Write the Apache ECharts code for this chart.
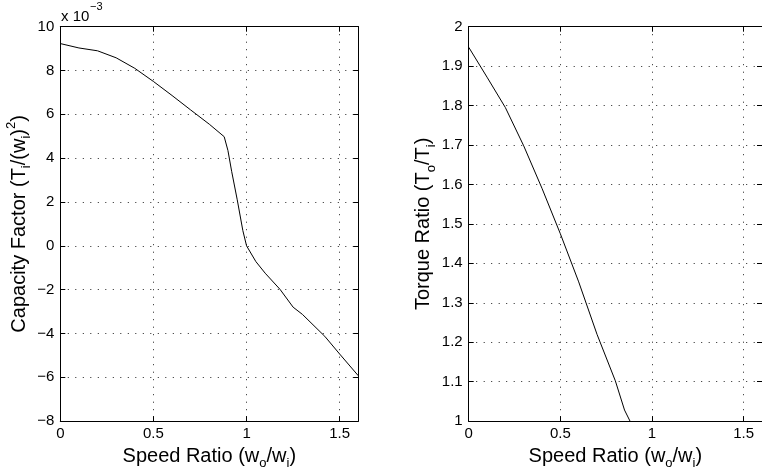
<!DOCTYPE html>
<html>
<head>
<meta charset="utf-8">
<script src="https://cdn.jsdelivr.net/npm/echarts@6/dist/echarts.min.js"></script>
<style>
html,body{margin:0;padding:0;background:#fff;}
#chart{width:762px;height:475px;}
</style>
</head>
<body>
<div id="chart"></div>
<script>
// Left panel: Capacity factor (values in units of 1e-3)
const speedRatioCap = [0, 0.1, 0.2, 0.3, 0.4, 0.5, 0.6, 0.7, 0.8, 0.88, 0.9, 0.92, 0.95, 0.98, 1.0, 1.05, 1.1, 1.18, 1.25, 1.3, 1.42, 1.5, 1.6];
const capacityFactor = [9.23, 9.03, 8.9, 8.58, 8.1, 7.5, 6.86, 6.2, 5.55, 4.98, 4.35, 3.4, 2.1, 0.7, 0.0, -0.72, -1.25, -1.99, -2.8, -3.13, -4.13, -4.94, -5.93];
// Right panel: Torque ratio
const speedRatioTorque = [0, 0.1, 0.2, 0.3, 0.4, 0.5, 0.6, 0.7, 0.8, 0.85, 0.88];
const torqueRatio = [1.948, 1.872, 1.795, 1.698, 1.59, 1.475, 1.353, 1.22, 1.102, 1.028, 1.0];
const xTicks = [0, 0.5, 1, 1.5];
const capTickRange = [-8, 10, 2];
const torqueTickRange = [1, 2, 0.1];

const FONT = 'Liberation Sans';
const black = '#000';
const rich = {
  n: {fontSize: 20, fontFamily: FONT, color: black, lineHeight: 28},
  s: {fontSize: 13, fontFamily: FONT, color: black, lineHeight: 12, verticalAlign: 'bottom'},
  p: {fontSize: 13, fontFamily: FONT, color: black, lineHeight: 12, verticalAlign: 'top'}
};
const dotted = {show: true, lineStyle: {color: '#222', width: 1, type: [1, 6.5]}};

function xAx(gi, main) {
  return {
    type: 'value', gridIndex: gi, min: 0, max: 1.6, interval: 0.5,
    position: main ? 'bottom' : 'top',
    axisLine: {show: true, onZero: false, lineStyle: {color: black, width: 1}},
    axisTick: {show: true, inside: true, length: 5, lineStyle: {color: black}},
    axisLabel: main ? {show: true, showMaxLabel: false, margin: 5, fontSize: 15, fontFamily: FONT, color: black,
      formatter: v => xTicks.some(t => Math.abs(t - v) < 1e-9) ? String(+v.toFixed(1)) : ''} : {show: false},
    splitLine: main ? dotted : {show: false},
    name: main ? '{n|Speed Ratio (w}{s|o}{n|/w}{s|i}{n|)}' : '',
    nameLocation: 'middle', nameGap: 12,
    nameTextStyle: {rich: rich}
  };
}
function yAx(gi, main, range, name, gap, fmt) {
  return {
    type: 'value', gridIndex: gi, min: range[0], max: range[1], interval: range[2],
    position: main ? 'left' : 'right',
    axisLine: {show: true, onZero: false, lineStyle: {color: black, width: 1}},
    axisTick: {show: true, inside: true, length: 5, lineStyle: {color: black}},
    axisLabel: main ? {show: true, margin: 6, fontSize: 15, fontFamily: FONT, color: black, formatter: fmt} : {show: false},
    splitLine: main ? dotted : {show: false},
    name: main ? name : '',
    nameLocation: 'middle', nameGap: gap,
    nameTextStyle: {rich: rich}
  };
}

const chart = echarts.init(document.getElementById('chart'), null, {renderer: 'canvas'});
chart.setOption({
  animation: false,
  backgroundColor: '#fff',
  grid: [
    {left: 60.3, top: 26.7, width: 298, height: 403.3},
    {left: 468.7, top: 26.7, width: 298.5, height: 403.3}
  ],
  xAxis: [xAx(0, true), xAx(0, false), xAx(1, true), xAx(1, false)],
  yAxis: [
    yAx(0, true, capTickRange, '{n|Capacity Factor (T}{s|i}{n|/(w}{s|i}{n|)}{p|2}{n|)}', 22, v => String(v).replace('-', '\u2212')),
    yAx(0, false, capTickRange),
    yAx(1, true, torqueTickRange, '{n|Torque Ratio (T}{s|o}{n|/T}{s|i}{n|)}', 29, v => String(+v.toFixed(1))),
    yAx(1, false, torqueTickRange)
  ],
  graphic: [
    {type: 'text', left: 61, top: 9, style: {text: 'x 10', font: '15px "Liberation Sans"', fill: black}},
    {type: 'text', left: 90, top: 1, style: {text: '\u22123', font: '11px "Liberation Sans"', fill: black}}
  ],
  series: [
    {type: 'line', xAxisIndex: 0, yAxisIndex: 0, showSymbol: false, symbol: 'none',
     lineStyle: {color: black, width: 1}, data: speedRatioCap.map((x, i) => [x, capacityFactor[i]])},
    {type: 'line', xAxisIndex: 2, yAxisIndex: 2, showSymbol: false, symbol: 'none',
     lineStyle: {color: black, width: 1}, data: speedRatioTorque.map((x, i) => [x, torqueRatio[i]])}
  ]
});
</script>
</body>
</html>
